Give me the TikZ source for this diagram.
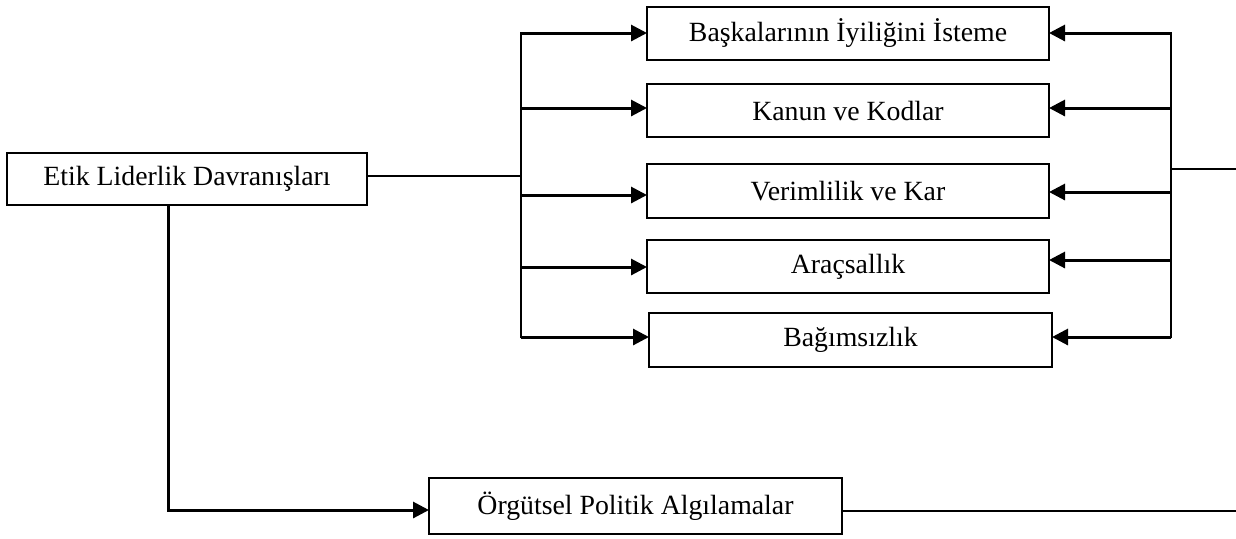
\documentclass[tikz,border=0pt]{standalone}
\usepackage{fontspec}
\setmainfont{Liberation Serif}
\usetikzlibrary{arrows.meta}
\tikzset{
  box/.style={draw, line width=1.1pt, inner sep=0pt, outer sep=0pt, anchor=center,
    font=\fontsize{13.9}{16}\selectfont},
  arr/.style={line width=1.5pt, -{Triangle[length=8pt,width=8pt]}},
  bus/.style={line width=1.3pt, line cap=rect},
  thin/.style={line width=1pt}
}
\begin{document}
\begin{tikzpicture}[x=0.5pt,y=-0.5pt]
\useasboundingbox (0,0) rectangle (1236,538);
% nodes
\node[box, minimum width=180pt, minimum height=26pt] (etik) at (187,179) {Etik Liderlik Davranışları};
\node[box, minimum width=201pt, minimum height=26.5pt] (b1) at (848,33.5) {Başkalarının İyiliğini İsteme};
\node[box, minimum width=201pt, minimum height=26.5pt] (b2) at (848,110.5) {Kanun ve Kodlar};
\node[box, minimum width=201pt, minimum height=27pt] (b3) at (848,191) {Verimlilik ve Kar};
\node[box, minimum width=201pt, minimum height=26.5pt] (b4) at (848,266.5) {Araçsallık};
\node[box, minimum width=201.5pt, minimum height=27pt] (b5) at (850.5,340) {Bağımsızlık};
\node[box, minimum width=206.5pt, minimum height=28pt] (org) at (635.5,506) {Örgütsel Politik Algılamalar};
% left bus
\coordinate (l1) at (521,33);
\coordinate (l2) at (521,108);
\coordinate (l3) at (521,195);
\coordinate (l4) at (521,267);
\coordinate (l5) at (521,337);
\coordinate (lj) at (521,176);
\draw[thin] (etik.east |- lj) -- (lj);
\draw[bus] (l1) -- (l5);
\draw[arr] (l1) -- (l1 -| b1.west);
\draw[arr] (l2) -- (l2 -| b2.west);
\draw[arr] (l3) -- (l3 -| b3.west);
\draw[arr] (l4) -- (l4 -| b4.west);
\draw[arr] (l5) -- (l5 -| b5.west);
% right bus
\coordinate (r1) at (1171,33);
\coordinate (r2) at (1171,108);
\coordinate (r3) at (1171,192);
\coordinate (r4) at (1171,260);
\coordinate (r5) at (1171,337);
\coordinate (rj) at (1171,169);
\coordinate (rend) at (1236,169);
\draw[bus] (r1) -- (r5);
\draw[thin] (rj) -- (rend);
\draw[arr] (r1) -- (r1 -| b1.east);
\draw[arr] (r2) -- (r2 -| b2.east);
\draw[arr] (r3) -- (r3 -| b3.east);
\draw[arr] (r4) -- (r4 -| b4.east);
\draw[arr] (r5) -- (r5 -| b5.east);
% bottom
\coordinate (ed) at (168,510);
\draw[arr] (etik.south -| ed) -- (ed) -- (ed -| org.west);
\coordinate (oend) at (1236,511);
\draw[thin] (org.east |- oend) -- (oend);
\end{tikzpicture}
\end{document}
